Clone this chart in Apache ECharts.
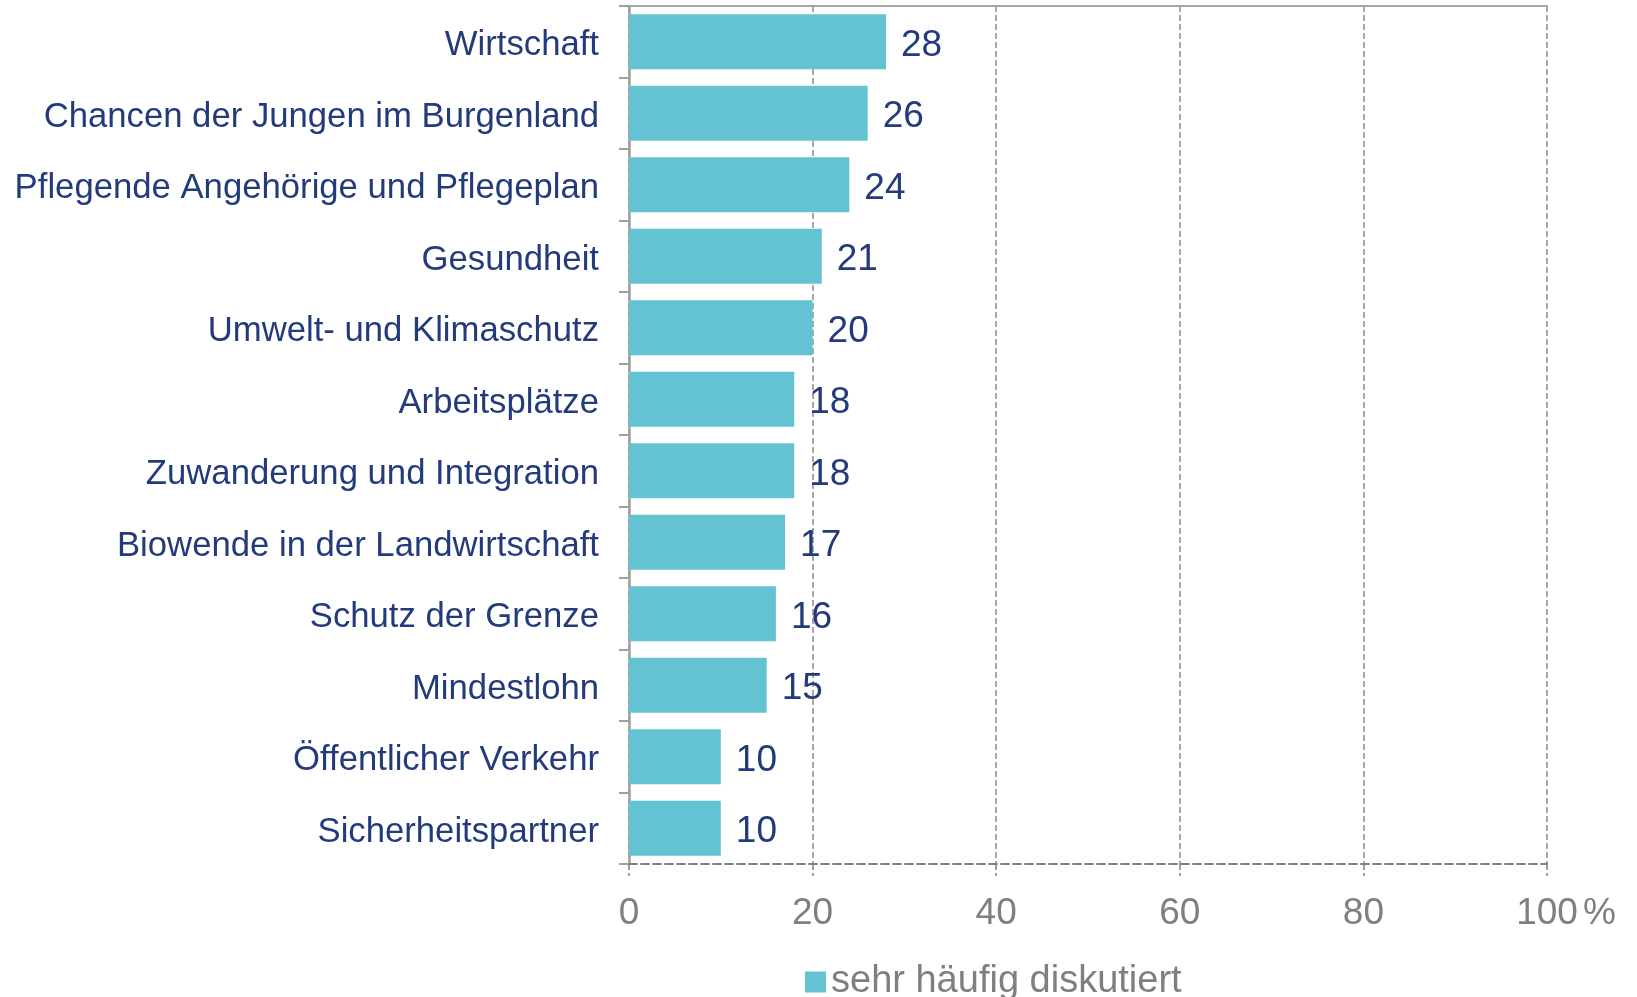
<!DOCTYPE html>
<html>
<head>
<meta charset="utf-8">
<script src="https://cdn.jsdelivr.net/npm/echarts@6/dist/echarts.min.js"></script>
<style>
html, body { margin: 0; padding: 0; background: #fff; }
#main { width: 1637px; height: 997px; }
</style>
</head>
<body>
<div id="main"></div>
<script>
// Themen, von oben nach unten
var categories = ['Wirtschaft', 'Chancen der Jungen im Burgenland', 'Pflegende Angehörige und Pflegeplan',
	'Gesundheit', 'Umwelt- und Klimaschutz', 'Arbeitsplätze', 'Zuwanderung und Integration',
	'Biowende in der Landwirtschaft', 'Schutz der Grenze', 'Mindestlohn', 'Öffentlicher Verkehr',
	'Sicherheitspartner'];
var sehrHaeufig = [28, 26, 24, 21, 20, 18, 18, 17, 16, 15, 10, 10];
var xTicks = [0, 20, 40, 60, 80, 100];

var navy = '#233a7b';
var grey = '#7f7f7f';
var font = 'Liberation Sans, Arial, sans-serif';

var option = {
	animation : false,
	backgroundColor : '#fff',
	grid : {
		left : 629,
		right : 90,
		top : 6,
		bottom : 133
	},
	legend : {
		data : ['sehr häufig diskutiert'],
		left : 800,
		top : 958,
		icon : 'rect',
		itemWidth : 21,
		itemHeight : 21,
		itemGap : 8,
		textStyle : {
			fontFamily : font,
			fontSize : 38,
			color : grey
		}
	},
	xAxis : [ {
		type : 'value',
		min : xTicks[0],
		max : xTicks[xTicks.length - 1],
		interval : 20,
		position : 'bottom',
		axisLine : {
			show : true,
			lineStyle : { color : '#808080', type : 'dashed', width : 2 }
		},
		axisTick : {
			show : true,
			length : 12,
			lineStyle : { color : '#808080', type : 'dashed', width : 1.5 }
		},
		axisLabel : {
			margin : 31,
			fontFamily : font,
			fontSize : 37,
			color : grey,
			formatter : function(v) {
				// "%" hängt rechts an der 100, die Zahl bleibt zentriert
				return v === 100 ? '{s| }100{p|%}' : String(v);
			},
			rich : {
				s : {
					width : 38,
					fontFamily : font,
					fontSize : 37
				},
				p : {
					fontFamily : font,
					fontSize : 37,
					color : grey,
					padding : [0, 0, 0, 5]
				}
			}
		},
		splitLine : {
			show : true,
			lineStyle : { color : '#8c8c8c', type : 'dashed', width : 1.5 }
		}
	}, {
		// obere Rahmenlinie
		type : 'value',
		min : 0,
		max : 100,
		position : 'top',
		axisLine : { show : true, lineStyle : { color : '#a6a6a6', width : 2 } },
		axisTick : { show : false },
		axisLabel : { show : false },
		splitLine : { show : false }
	} ],
	yAxis : {
		type : 'category',
		inverse : true,
		data : categories,
		axisLine : {
			show : true,
			lineStyle : { color : '#a0a0a0', width : 2.5 }
		},
		axisTick : {
			show : true,
			length : 10,
			lineStyle : { color : '#a0a0a0', width : 2 }
		},
		axisLabel : {
			margin : 30,
			formatter : function(v) {
				return '{t|' + v + '}';
			},
			rich : {
				t : {
					padding : [8, 0, 0, 0],
					fontFamily : font,
					fontSize : 34.7,
					color : navy
				}
			}
		}
	},
	series : [ {
		name : 'sehr häufig diskutiert',
		type : 'bar',
		data : sehrHaeufig,
		barWidth : 55,
		itemStyle : { color : '#63c3d2' },
		label : {
			show : true,
			position : 'right',
			distance : 15,
			offset : [0, 4],
			fontFamily : font,
			fontSize : 37,
			color : navy
		}
	} ]
};

var myChart = echarts.init(document.getElementById('main'));
myChart.setOption(option, true);
</script>
</body>
</html>
